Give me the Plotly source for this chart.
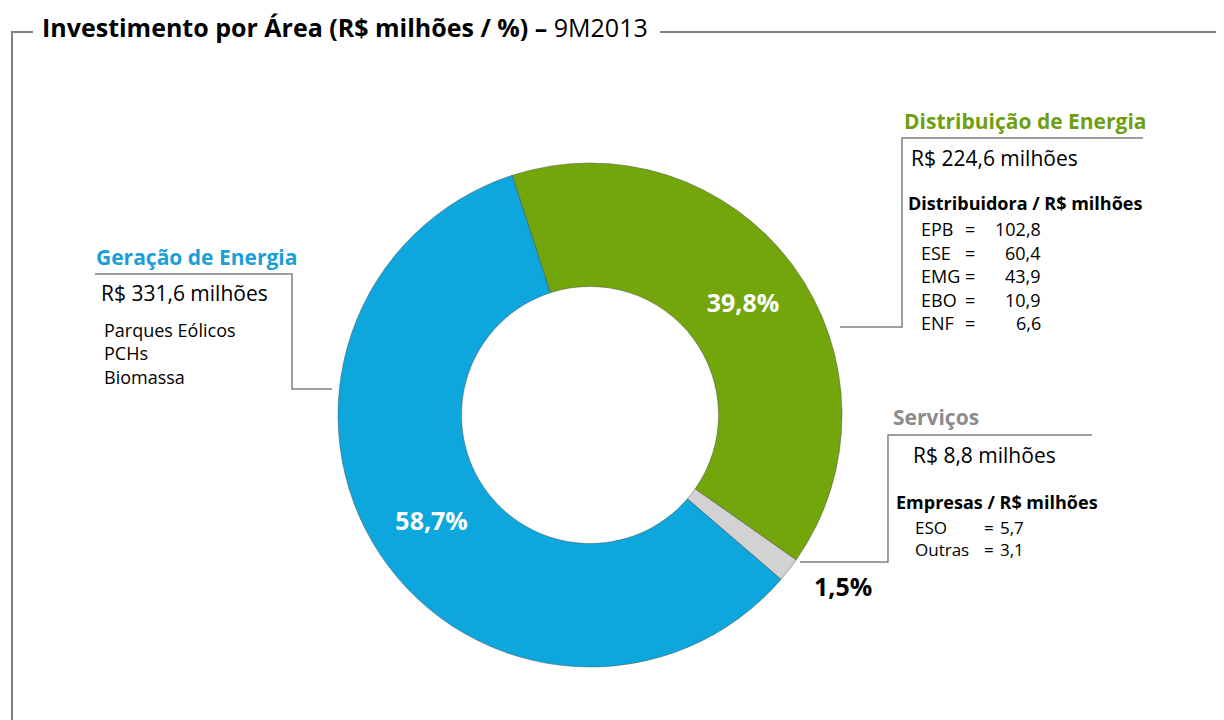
import plotly.graph_objects as go

# -----------------------------
# DATA
# -----------------------------
areas = ["Distribuição de Energia", "Serviços", "Geração de Energia"]
valores = [224.6, 8.8, 331.6]
percentuais = [39.8, 1.5, 58.7]
cores = ["#72A60B", "#D2D2D2", "#0DA6DD"]
cores_titulo = ["#6E9F12", "#8C8C8C", "#1A9FD6"]

geracao_itens = ["Parques Eólicos", "PCHs", "Biomassa"]
distribuidoras = ["EPB", "ESE", "EMG", "EBO", "ENF"]
dist_valores = [102.8, 60.4, 43.9, 10.9, 6.6]
empresas = ["ESO", "Outras"]
emp_valores = [5.7, 3.1]

# page body has an 8px margin, so the figure is shifted by that
OFF = 8
W, H = 1224 - OFF, 720 - OFF
FONT = "Open Sans"
LINE = "#808080"


def X(px):
    return (px - OFF) / W


def Y(py):
    return 1 - (py - OFF) / H


def br(v):
    return f"{v:.1f}".replace(".", ",")


def path(points, width=1.5):
    s = "M" + " L".join(f"{X(a):.5f},{Y(b):.5f}" for a, b in points)
    return dict(type="path", path=s, xref="paper", yref="paper",
                line=dict(color=LINE, width=width))


def txt(x, y, text, size=18, color="#000", anchor="left", bold=False):
    if bold:
        text = f"<b>{text}</b>"
    return dict(x=X(x), y=Y(y), xref="paper", yref="paper", text=text,
                showarrow=False, xanchor=anchor, yanchor="middle",
                align=anchor if anchor != "center" else "center",
                font=dict(family=FONT, size=size, color=color))


# -----------------------------
# DONUT
# -----------------------------
cx, cy, r = 590, 415, 252
fig = go.Figure(go.Pie(
    labels=areas,
    values=valores,
    text=[br(p) + "%" for p in percentuais],
    texttemplate="%{text}",
    sort=False,
    direction="clockwise",
    rotation=-18,
    hole=0.51,
    marker=dict(colors=cores, line=dict(color="rgba(70,70,70,0.45)", width=1)),
    textposition=["inside", "none", "inside"],
    insidetextorientation="horizontal",
    insidetextfont=dict(family=FONT, size=25, color="white", weight="bold"),
    domain=dict(x=[X(cx - r), X(cx + r)], y=[Y(cy + r), Y(cy - r)]),
    showlegend=False,
    hoverinfo="label+value+percent",
))

ann = []

# title
ann.append(txt(40, 27, "<b>Investimento por Área (R$ milhões / %) –</b> 9M2013", size=25))

# Geração
ann.append(txt(94, 257, areas[2], size=21, color=cores_titulo[2], bold=True))
ann.append(txt(99, 293, f"R$ {br(valores[2])} milhões", size=21))
for i, item in enumerate(geracao_itens):
    ann.append(txt(102, 330 + i * 23.5, item, size=18))

# Distribuição
ann.append(txt(902, 121, areas[0], size=21, color=cores_titulo[0], bold=True))
ann.append(txt(909, 158, f"R$ {br(valores[0])} milhões", size=21))
ann.append(txt(906, 203, "Distribuidora / R$ milhões", size=18, bold=True))
for i, (nome, v) in enumerate(zip(distribuidoras, dist_valores)):
    yy = 229 + i * 23.5
    ann.append(txt(919, yy, nome, size=18))
    ann.append(txt(970, yy, "=", size=18, anchor="center"))
    ann.append(txt(1043, yy, br(v), size=18, anchor="right"))

# Serviços
ann.append(txt(891, 417, areas[1], size=21, color=cores_titulo[1], bold=True))
ann.append(txt(911, 455, f"R$ {br(valores[1])} milhões", size=21))
ann.append(txt(894, 502, "Empresas / R$ milhões", size=18, bold=True))
ym = 538
ann.append(txt(913, ym, "<br>".join(empresas), size=17))
ann.append(txt(989, ym, "<br>".join("=" for _ in empresas), size=17, anchor="center"))
ann.append(txt(998, ym, "<br>".join(br(v) for v in emp_valores), size=17))

ann.append(txt(843, 586, f"{br(percentuais[1])}%", size=25, anchor="center", bold=True))

shapes = [
    path([(12, 720), (12, 32), (33, 32)], width=2),
    path([(660, 32), (1224, 32)], width=2),
    path([(95, 274), (292, 274), (292, 389), (332, 389)]),
    path([(1143, 138), (902, 138), (902, 327), (840, 327)]),
    path([(1092, 435), (888, 435), (888, 562), (800, 562)]),
]

fig.update_layout(
    width=W, height=H,
    margin=dict(l=0, r=0, t=0, b=0),
    paper_bgcolor="white",
    plot_bgcolor="white",
    font=dict(family=FONT),
    annotations=ann,
    shapes=shapes,
)

fig.write_html("out.html")
